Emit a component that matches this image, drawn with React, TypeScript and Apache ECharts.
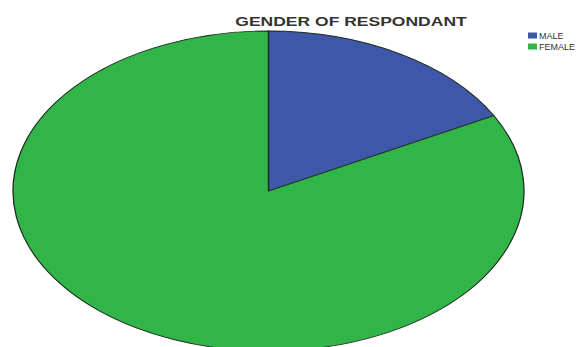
import React, { useEffect, useRef } from "react";
import * as echarts from "echarts";

const categories = ["MALE", "FEMALE"];
const values = [17.2, 82.8];
const colors = ["#3f57a9", "#31b548"];
const titleText = "GENDER OF RESPONDANT";

export default function App() {
  const ref = useRef<HTMLDivElement>(null);
  useEffect(() => {
    if (!ref.current) return;
    const chart = echarts.init(ref.current, undefined, { renderer: "svg" });
    const total = values.reduce((a, b) => a + b, 0);
    const R = 100;
    const makeRender = (idx: number) => (params: any, api: any) => {
      const w = api.getWidth();
      const cx = w * 0.4645;
      const cy = 191;
      const rx = 255.5;
      const ry = 160;
      let before = 0;
      for (let i = 0; i < idx; i++) before += values[i];
      const v = api.value(0);
      const start = -Math.PI / 2 + (before / total) * Math.PI * 2;
      const end = start + (v / total) * Math.PI * 2;
      return {
        type: "group",
        x: cx,
        y: cy,
        scaleX: rx / R,
        scaleY: ry / R,
        children: [
          {
            type: "sector",
            shape: { cx: 0, cy: 0, r: R, r0: 0, startAngle: start, endAngle: end, clockwise: true },
            style: {
              fill: colors[idx],
              stroke: "#1c2a1c",
              lineWidth: 1,
              strokeNoScale: true,
            },
          },
        ],
      };
    };
    chart.setOption({
      animation: false,
      backgroundColor: "#ffffff",
      legend: {
        data: categories,
        orient: "vertical",
        left: 528,
        top: 31,
        padding: 0,
        itemWidth: 9,
        itemHeight: 6,
        itemGap: 2,
        icon: "rect",
        textStyle: { fontSize: 9, color: "#333", fontFamily: "Arial, Liberation Sans", padding: [0, 0, 0, -3] },
      },
      graphic: [
        {
          type: "text",
          x: 351,
          y: 22,
          scaleX: 1.46,
          style: {
            text: titleText,
            font: "bold 12px Arial, 'Liberation Sans'",
            fill: "#333",
            textAlign: "center",
            textVerticalAlign: "middle",
          },
        },
      ],
      series: categories.map((name, i) => ({
        type: "custom",
        name,
        coordinateSystem: "none",
        itemStyle: { color: colors[i] },
        data: [[values[i]]],
        renderItem: makeRender(i),
      })),
    });
    return () => chart.dispose();
  }, []);
  return (
    <div
      ref={ref}
      style={{ position: "fixed", left: 0, top: 0, width: 578, height: 347 }}
    />
  );
}
